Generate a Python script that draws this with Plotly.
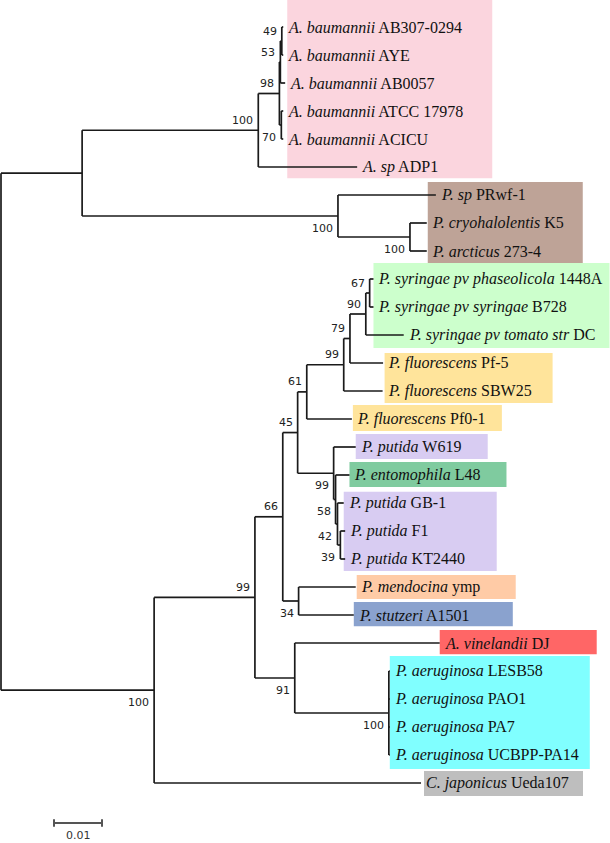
import plotly.graph_objects as go

# ---------------- data ----------------
node_ids = ["root", "A", "acin", "n98", "n53", "n49", "AB307", "AYE", "AB0057", "n70", "ATCC", "ACICU", "ADP1",
            "psy", "PRwf1", "psy2", "K5", "A273",
            "B", "n99a", "n66", "n45", "n61", "n99b", "n79", "n90", "n67", "pha", "syr", "tom", "Pf5", "SBW25",
            "Pf01", "p99", "W619", "n58", "L48", "n42", "GB1", "n39", "F1", "KT",
            "n34", "men", "stu", "n91", "vin", "aer", "LESB58", "PAO1", "PA7", "PA14", "Cjap"]
parent_ids = [None, "root", "A", "acin", "n98", "n53", "n49", "n49", "n53", "n98", "n70", "n70", "acin",
              "A", "psy", "psy", "psy2", "psy2",
              "root", "B", "n99a", "n66", "n45", "n61", "n99b", "n79", "n90", "n67", "n67", "n90", "n79", "n99b",
              "n61", "n45", "p99", "p99", "n58", "n58", "n42", "n42", "n39", "n39",
              "n66", "n34", "n34", "n99a", "n91", "n91", "aer", "aer", "aer", "aer", "B"]
branch_lengths = [0.0, 0.0169, 0.0367, 0.0044, 0.0002, 0.0003, 0.0003, 0.0003, 0.0010, 0.0004, 0.0004, 0.0004, 0.0206,
                  0.0533, 0.0204, 0.0150, 0.0035, 0.0035,
                  0.0319, 0.0210, 0.0058, 0.0031, 0.0019, 0.0077, 0.0013, 0.0033, 0.0008, 0.0008, 0.0008, 0.0079,
                  0.0069, 0.0081,
                  0.0094, 0.0075, 0.0046, 0.0004, 0.0029, 0.0004, 0.0013, 0.0006, 0.0010, 0.0010,
                  0.0033, 0.0119, 0.0115, 0.0083, 0.0302, 0.0196, 0.0002, 0.0002, 0.0002, 0.0002, 0.0556]
bootstrap = {"acin": 100, "n98": 98, "n53": 53, "n49": 49, "n70": 70, "psy": 100, "psy2": 100,
             "B": 100, "n99a": 99, "n66": 66, "n45": 45, "n61": 61, "n99b": 99, "n79": 79, "n90": 90, "n67": 67,
             "p99": 99, "n58": 58, "n42": 42, "n39": 39, "n34": 34, "n91": 91, "aer": 100}

tip_ids = ["AB307", "AYE", "AB0057", "ATCC", "ACICU", "ADP1", "PRwf1", "K5", "A273", "pha", "syr", "tom",
           "Pf5", "SBW25", "Pf01", "W619", "L48", "GB1", "F1", "KT", "men", "stu", "vin",
           "LESB58", "PAO1", "PA7", "PA14", "Cjap"]
tip_species = ["A. baumannii", "A. baumannii", "A. baumannii", "A. baumannii", "A. baumannii", "A. sp",
               "P. sp", "P. cryohalolentis", "P. arcticus",
               "P. syringae pv phaseolicola", "P. syringae pv syringae", "P. syringae pv tomato str",
               "P. fluorescens", "P. fluorescens", "P. fluorescens",
               "P. putida", "P. entomophila", "P. putida", "P. putida", "P. putida",
               "P. mendocina", "P. stutzeri", "A. vinelandii",
               "P. aeruginosa", "P. aeruginosa", "P. aeruginosa", "P. aeruginosa", "C. japonicus"]
tip_strains = ["AB307-0294", "AYE", "AB0057", "ATCC 17978", "ACICU", "ADP1", "PRwf-1", "K5", "273-4",
               "1448A", "B728", "DC", "Pf-5", "SBW25", "Pf0-1", "W619", "L48", "GB-1", "F1", "KT2440",
               "ymp", "A1501", "DJ", "LESB58", "PAO1", "PA7", "UCBPP-PA14", "Ueda107"]

scale_value = 0.01
scale_label = "0.01"

# ---------------- style / layout ----------------
W, H = 610, 843
PX_PER_UNIT = 4800.0       # horizontal pixels per substitution/site
X0_PX = 1.0                # root position in pixels
ROW0_PX, ROW_PX = 27.0, 28.0

below_labels = {"n70", "psy", "psy2", "n34", "p99", "n58", "n42", "n39", "n91", "aer", "B"}

# (first tip, last tip, colour, left pad px, width px, top pad rows, bottom pad rows)
boxes = [
    ("AB307", "ADP1", "#FBD5DE", 4, 205, 0.97, 0.40),
    ("PRwf1", "A273", "#BEA397", 1, 155, 0.46, 0.43),
    ("pha", "tom", "#CCFFCC", 0, 236, 0.57, 0.46),
    ("Pf5", "SBW25", "#FFE49B", 2, 168, 0.36, 0.43),
    ("Pf01", "Pf01", "#FFE49B", 1, 149, 0.50, 0.43),
    ("W619", "W619", "#D8CCF2", 0, 132, 0.46, 0.43),
    ("L48", "L48", "#7FCB9F", 0, 157, 0.46, 0.43),
    ("GB1", "KT", "#D8CCF2", 0, 153, 0.40, 0.43),
    ("men", "men", "#FFCBA6", 1, 159, 0.43, 0.43),
    ("stu", "stu", "#8AA2CE", 0, 159, 0.46, 0.40),
    ("vin", "vin", "#FF6666", 0, 157, 0.46, 0.40),
    ("LESB58", "PA14", "#80FFFF", 0, 200, 0.54, 0.50),
    ("Cjap", "Cjap", "#BEBEBE", 3, 159, 0.43, 0.46),
]

# ---------------- tree geometry ----------------
children = {}
for nid, pid in zip(node_ids, parent_ids):
    if pid is not None:
        children.setdefault(pid, []).append(nid)

dist = {}
for nid, pid, bl in zip(node_ids, parent_ids, branch_lengths):
    dist[nid] = 0.0 if pid is None else dist[pid] + bl

tips = [n for n in node_ids if n not in children]
row = {t: i for i, t in enumerate(tips)}


def ypos(n):
    if n in row:
        return float(row[n])
    c = children[n]
    return (ypos(c[0]) + ypos(c[-1])) / 2.0


parent_of = dict(zip(node_ids, parent_ids))
xs, ys = [], []
for nid in node_ids:
    pid = parent_of[nid]
    if pid is not None:
        xs += [dist[pid], dist[nid], None]
        ys += [ypos(nid), ypos(nid), None]
    if nid in children:
        c = children[nid]
        xs += [dist[nid], dist[nid], None]
        ys += [ypos(c[0]), ypos(c[-1]), None]

px = 1.0 / PX_PER_UNIT
fig = go.Figure()

# coloured boxes behind labels
shapes = []
for first, last, col, lpad, wpx, tpad, bpad in boxes:
    grp = tips[row[first]:row[last] + 1]
    x0 = min(dist[t] for t in grp) + lpad * px
    shapes.append(dict(type="rect", xref="x", yref="y", x0=x0, x1=x0 + wpx * px,
                       y0=row[first] - tpad, y1=row[last] + bpad,
                       fillcolor=col, line=dict(width=0), layer="below"))

fig.add_trace(go.Scatter(x=xs, y=ys, mode="lines", line=dict(color="#1a1a1a", width=1.7),
                         hoverinfo="skip", showlegend=False))

annotations = []
for t, sp, st in zip(tip_ids, tip_species, tip_strains):
    annotations.append(dict(x=dist[t], y=row[t], xref="x", yref="y", text=f"<i>{sp}</i> {st}",
                            showarrow=False, xanchor="left", yanchor="middle", xshift=3,
                            font=dict(family="Liberation Serif", size=16, color="#111")))

for nid, bs in bootstrap.items():
    below = nid in below_labels
    annotations.append(dict(x=dist[nid], y=ypos(nid), xref="x", yref="y", text=str(bs),
                            showarrow=False, xanchor="right", yanchor="middle", xshift=-3,
                            yshift=-12 if below else 10,
                            font=dict(family="DejaVu Sans", size=11, color="#222")))

# scale bar
sb_x0 = (54 - X0_PX) * px
sb_row = (823 - ROW0_PX) / ROW_PX
tick = 0.13
fig.add_trace(go.Scatter(x=[sb_x0, sb_x0 + scale_value, None, sb_x0, sb_x0, None,
                            sb_x0 + scale_value, sb_x0 + scale_value],
                         y=[sb_row, sb_row, None, sb_row - tick, sb_row + tick, None,
                            sb_row - tick, sb_row + tick],
                         mode="lines", line=dict(color="#555", width=2),
                         hoverinfo="skip", showlegend=False))
annotations.append(dict(x=sb_x0 + scale_value / 2, y=sb_row, xref="x", yref="y", text=scale_label,
                        showarrow=False, xanchor="center", yanchor="middle", yshift=-12,
                        font=dict(family="DejaVu Sans", size=11, color="#333")))

fig.update_layout(
    width=W, height=H, margin=dict(l=0, r=0, t=0, b=0),
    paper_bgcolor="white", plot_bgcolor="white",
    shapes=shapes, annotations=annotations, showlegend=False,
    xaxis=dict(range=[-X0_PX * px, (W - X0_PX) * px], visible=False, fixedrange=True),
    yaxis=dict(range=[(H - ROW0_PX) / ROW_PX, -ROW0_PX / ROW_PX], visible=False, fixedrange=True),
)
fig.write_html("out.html", config={"displayModeBar": False},
               post_script="document.body.style.margin='0';document.body.style.overflow='hidden';")
